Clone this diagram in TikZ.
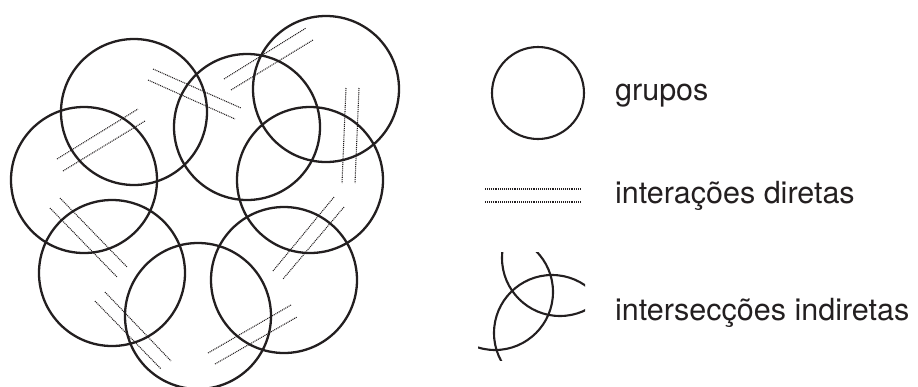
\documentclass[tikz,border=0pt]{standalone}
\usepackage{fontspec}
\setmainfont{TeX Gyre Heros}
\definecolor{ink}{RGB}{35,31,32}
\begin{document}
\begin{tikzpicture}[x=1pt,y=-1pt,
  grp/.style={circle,draw=ink,line width=2.3pt,minimum size=146pt,inner sep=0pt},
  legcirc/.style={circle,draw=ink,line width=2.1pt,minimum size=92pt,inner sep=0pt},
  inter/.style={draw=ink,line width=1.05pt,dash pattern=on 1pt off 0.9pt},
  lbl/.style={anchor=base west,font=\fontsize{30.5}{36}\selectfont,inner sep=0pt,text=ink}]
\useasboundingbox (0,0) rectangle (918,386);
% groups
\node[grp] (A) at (134,112) {};
\node[grp] (B) at (84,180) {};
\node[grp] (C) at (247,127) {};
\node[grp] (D) at (326,89) {};
\node[grp] (E) at (310,180) {};
\node[grp] (F) at (112,273) {};
\node[grp] (G) at (198,316) {};
\node[grp] (H) at (284,280) {};
% direct interactions
\draw[inter] (57,159) -- (138,109);
\draw[inter] (63,171) -- (145,121);
\draw[inter] (153,69) -- (241,108);
\draw[inter] (148,80) -- (235,119);
\draw[inter] (224,79) -- (306,28);
\draw[inter] (231,90) -- (313,40);
\draw[inter] (346,88) -- (342,183);
\draw[inter] (359,88) -- (355,183);
\draw[inter] (60,198) -- (127,267);
\draw[inter] (50,208) -- (117,277);
\draw[inter] (334,197) -- (273,271);
\draw[inter] (344,207) -- (283,279);
\draw[inter] (105,292) -- (171,361);
\draw[inter] (95,301) -- (161,369);
\draw[inter] (208,353) -- (291,305);
\draw[inter] (215,364) -- (297,317);
% legend
\node[legcirc] (L1) at (538,93) {};
\node[lbl] (T1) at (615,100) {grupos};
\coordinate (d1a) at (485,189); \coordinate (d1b) at (581,189);
\coordinate (d2a) at (485,202); \coordinate (d2b) at (581,202);
\draw[inter] (d1a) -- (d1b);
\draw[inter] (d2a) -- (d2b);
\node[lbl] (T2) at (615,203) {interações diretas};
\begin{scope}
  \clip (478,252) rectangle (585,360);
  \draw[ink,line width=2.1pt] (560,258) circle[radius=58];
  \draw[ink,line width=2.1pt] (495,292) circle[radius=58];
  \draw[ink,line width=2.1pt] (552,333) circle[radius=58];
\end{scope}
\node[lbl] (T3) at (615,320) {intersecções indiretas};
\end{tikzpicture}
\end{document}
